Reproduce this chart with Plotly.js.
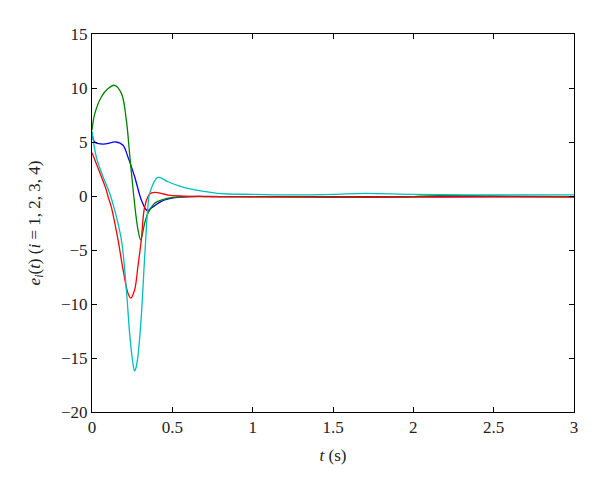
<!DOCTYPE html>
<html>
<head>
<meta charset="utf-8">
<script src="https://cdn.plot.ly/plotly-3.0.1.min.js"></script>
<style>html,body{margin:0;padding:0;background:#fff;}#chart{width:600px;height:490px;}</style>
</head>
<body>
<div id="chart"></div>
<script>
// e1 (blue)
const t1 = [0, 0.017, 0.068, 0.151, 0.193, 0.224, 0.265, 0.307, 0.338, 0.348, 0.369, 0.39, 0.431, 0.452, 0.515, 0.6, 0.8, 1.0, 1.5, 2.0, 2.5, 3.0];
const e1 = [5.9, 5.0, 4.8, 5.0, 4.7, 3.6, 1.8, -0.37, -1.29, -1.36, -1.1, -0.9, -0.5, -0.37, -0.15, -0.05, -0.05, -0.05, -0.05, -0.05, -0.05, -0.05];
// e2 (green)
const t2 = [0, 0.017, 0.058, 0.1, 0.141, 0.183, 0.214, 0.234, 0.255, 0.276, 0.286, 0.303, 0.328, 0.348, 0.359, 0.39, 0.41, 0.473, 0.55, 0.7, 1.0, 1.5, 2.0, 2.2, 2.5, 3.0];
const e2 = [6.1, 7.6, 9.17, 9.95, 10.25, 9.5, 7.0, 3.9, 0.7, -2.1, -3.1, -4.06, -2.5, -1.6, -1.3, -0.68, -0.5, -0.2, -0.08, -0.05, -0.05, -0.08, -0.05, 0.05, 0.0, -0.05];
// e3 (red)
const t3 = [0, 0.058, 0.089, 0.1, 0.12, 0.162, 0.193, 0.224, 0.241, 0.265, 0.286, 0.307, 0.328, 0.359, 0.39, 0.473, 0.55, 0.7, 1.0, 1.5, 2.0, 2.5, 3.0];
const e3 = [4.0, 1.8, 0.55, -0.06, -1.0, -4.06, -6.8, -9.0, -9.45, -8.7, -6.5, -4.06, -1.0, 0.18, 0.34, 0.09, 0.0, -0.05, -0.08, -0.12, -0.1, -0.08, -0.1];
// e4 (cyan)
const t4 = [0, 0.027, 0.068, 0.11, 0.141, 0.183, 0.214, 0.234, 0.247, 0.258, 0.265, 0.274, 0.286, 0.307, 0.328, 0.348, 0.359, 0.41, 0.473, 0.556, 0.597, 0.78, 1.0, 1.25, 1.5, 1.7, 2.0, 2.5, 3.0];
const e4 = [6.0, 3.6, 1.8, 0.25, -1.3, -4.06, -8.7, -12.7, -14.6, -15.8, -16.2, -15.9, -14.8, -11.1, -5.6, -1.0, 0.25, 1.72, 1.32, 0.86, 0.7, 0.25, 0.15, 0.1, 0.15, 0.25, 0.15, 0.1, 0.1];

const xTicks = [0, 0.5, 1, 1.5, 2, 2.5, 3];
const xTickText = ['0', '0.5', '1', '1.5', '2', '2.5', '3'];
const yTicks = [-20, -15, -10, -5, 0, 5, 10, 15];
const yTickText = ['\u221220', '\u221215', '\u221210', '\u22125', '0', '5', '10', '15'];

const mk = (x, y, c) => ({x: x, y: y, type: 'scatter', mode: 'lines',
  line: {color: c, width: 1.3, shape: 'spline', smoothing: 1}, hoverinfo: 'skip'});

const data = [
  mk(t1, e1, '#0000ff'),
  mk(t2, e2, '#008000'),
  mk(t3, e3, '#ff0000'),
  mk(t4, e4, '#00bfbf')
];

const SERIF = "'Times New Roman', Times, 'Liberation Serif', Tinos, 'Nimbus Roman', 'Nimbus Roman No9 L', FreeSerif, 'DejaVu Serif', serif";

const axisCommon = {
  showgrid: false, zeroline: false, showline: true, linecolor: '#000', linewidth: 1,
  mirror: 'ticks', ticks: 'inside', ticklen: 5, tickcolor: '#000', tickwidth: 1,
  tickfont: {family: SERIF, size: 17, color: '#222'}
};

const layout = {
  width: 600, height: 490,
  margin: {l: 92, r: 26, t: 33.5, b: 77.5},
  paper_bgcolor: '#fff', plot_bgcolor: '#fff',
  showlegend: false,
  font: {family: SERIF},
  xaxis: Object.assign({}, axisCommon, {
    range: [0, 3], tickmode: 'array', tickvals: xTicks, ticktext: xTickText,
    title: {text: '<i>t</i> (s)', font: {family: SERIF, size: 17, color: '#222'}, standoff: 12}
  }),
  yaxis: Object.assign({}, axisCommon, {
    range: [-20, 15], tickmode: 'array', tickvals: yTicks, ticktext: yTickText,
    title: {text: '<i>e<sub>i</sub></i>(<i>t</i>) (<i>i</i> = 1, 2, 3, 4)', font: {family: SERIF, size: 17, color: '#222'}, standoff: 16}
  })
};

Plotly.newPlot('chart', data, layout, {staticPlot: true, displayModeBar: false});
</script>
</body>
</html>
